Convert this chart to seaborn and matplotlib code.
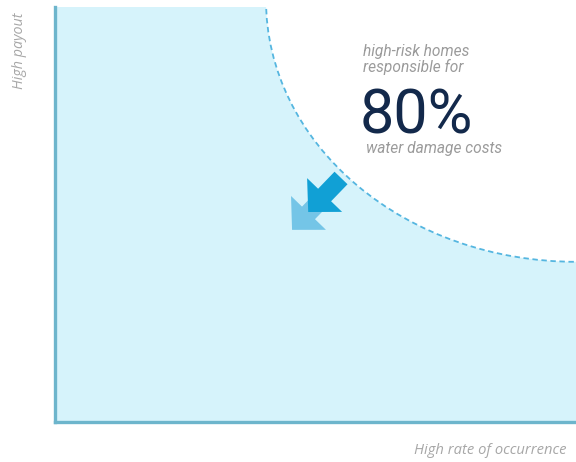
import matplotlib
matplotlib.use("Agg")
import matplotlib.pyplot as plt
from matplotlib.patches import Ellipse, Arc
import seaborn as sns

# ---- content ----
x_label = "High rate of occurrence"
y_label = "High payout"
headline_top = ["high-risk homes", "responsible for"]
headline_value = "80%"
headline_bottom = "water damage costs"

# frontier (quarter-ellipse) in axes units: centre and radii
frontier_center = (1.0, 1.017)
frontier_radii = (0.595, 0.631)

# arrows (tail -> tip) in axes units
arrow_light = ((0.516, 0.542), (0.455, 0.463))
arrow_dark = ((0.549, 0.588), (0.486, 0.506))

# ---- style ----
fill_color = "#d6f3fb"
spine_color = "#6db5cc"
dash_color = "#55b6e0"
light_arrow = "#74c5e7"
dark_arrow = "#11a0d5"
grey = "#9b9b9b"
navy = "#13294b"

sns.set_theme(style="white")
plt.rcParams["font.family"] = ["Roboto", "DejaVu Sans"]

W, H = 576, 462
fig = plt.figure(figsize=(W / 100, H / 100), dpi=100)
ax_l, ax_r, ax_t, ax_b = 55, 576, 7, 422
ax = fig.add_axes([ax_l / W, 1 - ax_b / H, (ax_r - ax_l) / W, (ax_b - ax_t) / H])
ax.set_xlim(0, 1)
ax.set_ylim(0, 1)
ax.set_facecolor(fill_color)
ax.set_xticks([])
ax.set_yticks([])
sns.despine(ax=ax, top=True, right=True)
for s in ("left", "bottom"):
    ax.spines[s].set_color(spine_color)
    ax.spines[s].set_linewidth(2.4)
    ax.spines[s].set_zorder(10)

cx, cy = frontier_center
rx, ry = frontier_radii
cut = Ellipse((cx, cy), 2 * rx, 2 * ry, facecolor="white", edgecolor="none", zorder=2)
ax.add_patch(cut)
arc = Arc((cx, cy), 2 * rx, 2 * ry, theta1=180, theta2=270, color=dash_color,
          lw=1.3, linestyle=(0, (3, 2)), zorder=3)
ax.add_patch(arc)

for (tail, tip), col in ((arrow_light, light_arrow), (arrow_dark, dark_arrow)):
    ax.annotate("", xy=tip, xytext=tail, xycoords="data", textcoords="data",
                arrowprops=dict(arrowstyle="simple,head_width=35,head_length=17,tail_width=13",
                                mutation_scale=1, fc=col, ec="none",
                                shrinkA=0, shrinkB=0), zorder=5)

def fx(px):
    return px / W

def fy(py):
    return 1 - py / H

fig.text(fx(20), fy(51), y_label, rotation=90, ha="center", va="center",
         fontsize=10.3, style="italic", color="#a7a7a7", family=["Open Sans", "DejaVu Sans"])
fig.text(fx(567), fy(451), x_label, ha="right", va="center",
         fontsize=10.6, style="italic", color="#a7a7a7", family=["Open Sans", "DejaVu Sans"])

fig.text(fx(363), fy(56), headline_top[0], ha="left", va="baseline",
         fontsize=11.2, style="italic", color=grey)
fig.text(fx(363), fy(72), headline_top[1], ha="left", va="baseline",
         fontsize=11.2, style="italic", color=grey)
fig.text(fx(360), fy(134), headline_value, ha="left", va="baseline",
         fontsize=44, color=navy, weight="normal")
fig.text(fx(366), fy(153), headline_bottom, ha="left", va="baseline",
         fontsize=11.2, style="italic", color=grey)

fig.savefig("out.png", dpi=100, facecolor="white")
